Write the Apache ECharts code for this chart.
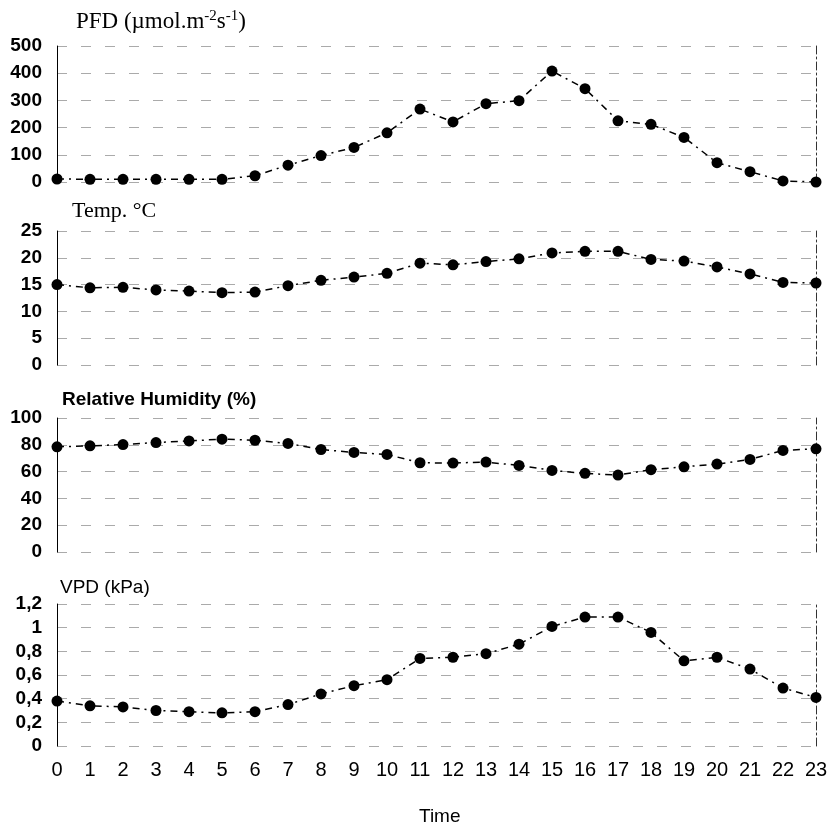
<!DOCTYPE html>
<html><head><meta charset="utf-8">
<script src="https://cdn.jsdelivr.net/npm/echarts@6/dist/echarts.min.js"></script>
<style>html,body{margin:0;padding:0;background:#fff}#c{width:835px;height:824px}</style>
</head><body><div id="c"></div>
<script>
var hours = [0,1,2,3,4,5,6,7,8,9,10,11,12,13,14,15,16,17,18,19,20,21,22,23];
var pfd  = [11,10,10,10,10,10,23,62,97,127,181,268,221,288,299,408,343,225,212,164,71,38,4,0];
var temp = [15.0,14.4,14.5,14.0,13.8,13.5,13.6,14.8,15.8,16.4,17.1,19.0,18.7,19.3,19.8,20.9,21.2,21.2,19.7,19.4,18.3,17.0,15.4,15.3];
var rh   = [78.5,79.2,80.2,81.7,82.9,84.2,83.4,81.0,76.5,74.3,72.8,66.6,66.4,67.1,64.6,60.9,58.7,57.4,61.4,63.6,65.6,69.1,75.8,77.0];
var vpd  = [0.38,0.34,0.33,0.30,0.29,0.28,0.29,0.35,0.44,0.51,0.56,0.74,0.75,0.78,0.86,1.01,1.09,1.09,0.96,0.72,0.75,0.65,0.49,0.41];

var pfdTicks  = [0,100,200,300,400,500];
var tempTicks = [0,5,10,15,20,25];
var rhTicks   = [0,20,40,60,80,100];
var vpdTicks  = ['0','0,2','0,4','0,6','0,8','1','1,2'];

var grids = [
  {left:57, right:19, top:46,  height:136},
  {left:57, right:19, top:231, height:134},
  {left:57, right:19, top:418, height:134},
  {left:57, right:19, top:604, height:142}
];
var yDefs = [
  {min:0, max:500, interval:100},
  {min:0, max:25, interval:5},
  {min:0, max:100, interval:20},
  {min:0, max:1.2, interval:0.2}
];
var seriesData = [pfd, temp, rh, vpd];

var xAxes = [], yAxes = [], series = [];
for (var i=0;i<4;i++){
  xAxes.push({
    type:'value', gridIndex:i, min:0, max:23, interval:1,
    axisLine:{show:false}, axisTick:{show:false}, splitLine:{show:false},
    axisLabel:{show:i===3, margin:14, fontSize:20, color:'#000',
      fontFamily:'Liberation Sans, Arial, sans-serif',
      formatter:function(v){ return String(hours[v]); }}
  });
  (function(idx){
    yAxes.push({
      type:'value', gridIndex:idx, min:yDefs[idx].min, max:yDefs[idx].max, interval:yDefs[idx].interval,
      position:'left',
      axisLine:{show:true, lineStyle:{color:'#000', width:1}},
      axisTick:{show:false},
      splitLine:{show:true, lineStyle:{color:'#aaa', width:1, type:[10,14]}},
      axisLabel:{margin:15, fontSize:19, fontWeight:'bold', color:'#000',
        fontFamily:'Liberation Sans, Arial, sans-serif',
        formatter:function(v){
          if (idx===3) return vpdTicks[Math.round(v/0.2)];
          if (idx===0) return String(pfdTicks[Math.round(v/100)]);
          if (idx===1) return String(tempTicks[Math.round(v/5)]);
          return String(rhTicks[Math.round(v/20)]);
        }}
    });
    yAxes.push({
      type:'value', gridIndex:idx, min:yDefs[idx].min, max:yDefs[idx].max, interval:yDefs[idx].interval,
      position:'right',
      axisLine:{show:true, lineStyle:{color:'#333', width:1, type:[8,3,2,3]}},
      axisTick:{show:false}, axisLabel:{show:false}, splitLine:{show:false}
    });
  })(i);
  series.push({
    type:'line', xAxisIndex:i, yAxisIndex:i*2,
    data: hours.map(function(h,k){ return [h, seriesData[i][k]]; }),
    symbol:'circle', symbolSize:11,
    itemStyle:{color:'#000'},
    lineStyle:{color:'#000', width:1.5, type:[7,5,2,5]},
    animation:false, silent:true
  });
}

var serif = 'Liberation Serif, Times New Roman, serif';
var sans = 'Liberation Sans, Arial, sans-serif';
var chart = echarts.init(document.getElementById('c'), null, {renderer:'canvas'});
chart.setOption({
  backgroundColor:'#fff',
  animation:false,
  title:[
    {text:'{a|PFD (µmol.m}{s|-2}{a|s}{s|-1}{a|)}', left:71, top:4,
      textStyle:{fontWeight:'normal', rich:{
        a:{fontFamily:serif, fontSize:23, fontWeight:'normal', color:'#000'},
        s:{fontFamily:serif, fontSize:15, fontWeight:'normal', color:'#000', verticalAlign:'top', padding:[0,0,10,0]}
      }}},
    {text:'Temp. °C', left:67, top:195,
      textStyle:{fontFamily:serif, fontSize:22, fontWeight:'normal', color:'#000'}},
    {text:'Relative Humidity (%)', left:57, top:385,
      textStyle:{fontFamily:sans, fontSize:19, fontWeight:'bold', color:'#000'}},
    {text:'VPD (kPa)', left:55, top:573,
      textStyle:{fontFamily:sans, fontSize:19, fontWeight:'normal', color:'#000'}},
    {text:'Time', left:414, top:802,
      textStyle:{fontFamily:sans, fontSize:19, fontWeight:'normal', color:'#000'}}
  ],
  grid:grids,
  xAxis:xAxes,
  yAxis:yAxes,
  series:series
});
</script>
</body></html>
